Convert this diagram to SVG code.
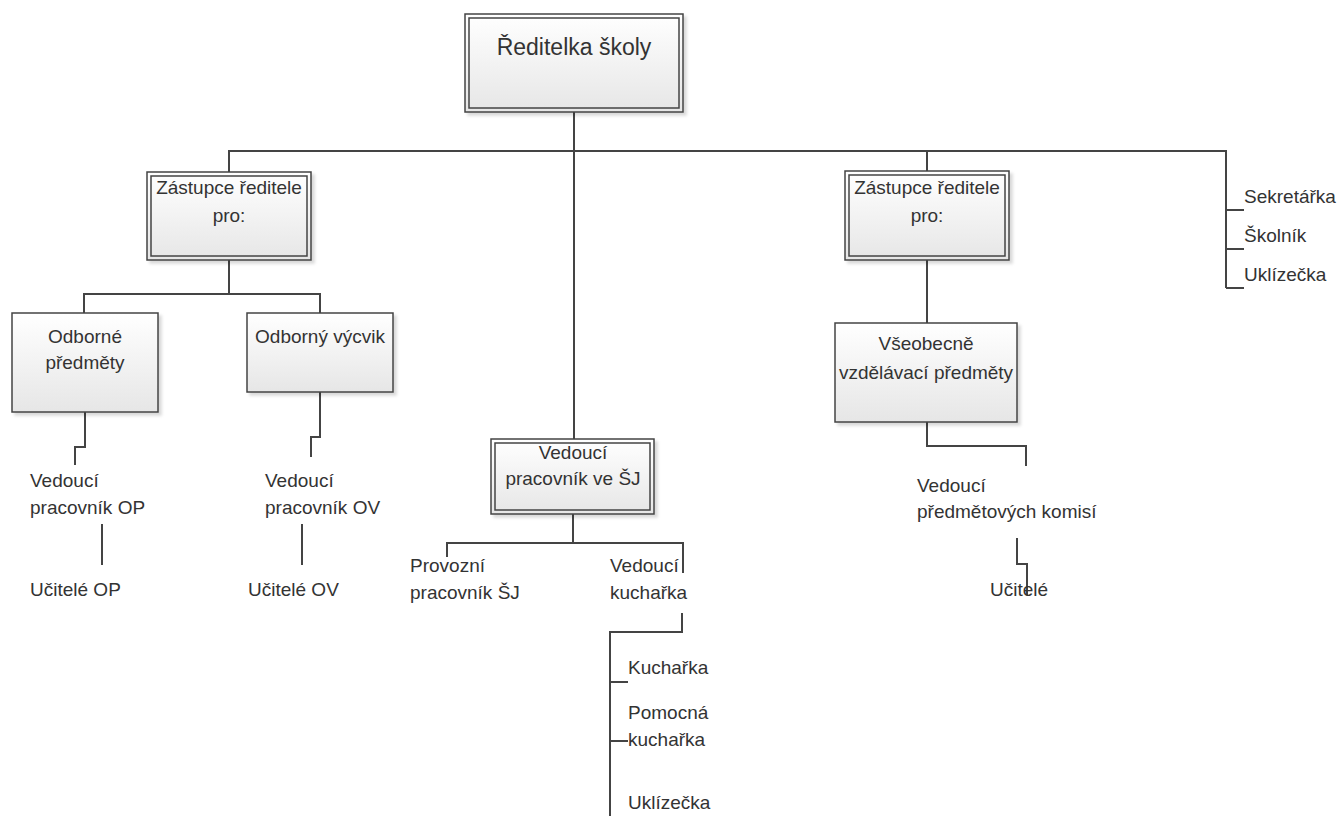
<svg xmlns="http://www.w3.org/2000/svg" width="1340" height="816" viewBox="0 0 1340 816">
<defs>
<linearGradient id="g" x1="0" y1="0" x2="0" y2="1">
<stop offset="0" stop-color="#ffffff"/>
<stop offset="1" stop-color="#e6e6e6"/>
</linearGradient>
<filter id="sh" x="-10%" y="-10%" width="130%" height="130%">
<feDropShadow dx="3" dy="3" stdDeviation="1.5" flood-color="#000" flood-opacity="0.15"/>
</filter>
</defs>
<style>
.t{font-family:"Liberation Sans",Arial,sans-serif;font-size:19px;fill:#333}
.c{text-anchor:middle}
.big{font-size:23px}
.box{fill:url(#g);stroke:#444;stroke-width:1.5;filter:url(#sh)}
.in{fill:none;stroke:#444;stroke-width:1.5}
.ln{fill:none;stroke:#444;stroke-width:2}
</style>
<rect width="1340" height="816" fill="#fff"/>
<g id="connectors">
<path class="ln" d="M574 112 V439"/>
<path class="ln" d="M229 172 V151 H1226 V288"/>
<path class="ln" d="M927 151 V171"/>
<path class="ln" d="M1226 210 H1244 M1226 249 H1244 M1226 288 H1244"/>
<path class="ln" d="M229 260 V294 M84 313 V294 H320 V313"/>
<path class="ln" d="M85 412 V447 H75 V465"/>
<path class="ln" d="M320 392 V437 H311 V457"/>
<path class="ln" d="M102 524 V565 M302 524 V565"/>
<path class="ln" d="M927 260 V323"/>
<path class="ln" d="M927 422 V446 H1026 V466"/>
<path class="ln" d="M1017 538 V564 H1027 V595"/>
<path class="ln" d="M573 514 V543 M447 557 V543 H683 V573"/>
<path class="ln" d="M682 613 V632 H610 V816 M610 682 H628 M610 741 H628"/>
</g>
<g id="reditelka">
<rect class="box" x="465" y="14" width="218" height="98"/>
<rect class="in" x="469" y="18" width="210" height="90"/>
<text class="t c big" x="574" y="55">Ředitelka školy</text>
</g>
<g id="zastupce1">
<rect class="box" x="147" y="172" width="164" height="88"/>
<rect class="in" x="151" y="176" width="156" height="80"/>
<text class="t c" x="229" y="194">Zástupce ředitele</text>
<text class="t c" x="229" y="222">pro:</text>
</g>
<g id="odborne">
<rect class="box" x="12" y="313" width="146" height="99"/>
<text class="t c" x="85" y="343">Odborné</text>
<text class="t c" x="85" y="369">předměty</text>
</g>
<g id="vycvik">
<rect class="box" x="247" y="313" width="146" height="79"/>
<text class="t c" x="320" y="343">Odborný výcvik</text>
</g>
<g id="vedouciOP">
<text class="t" x="30" y="487">Vedoucí</text>
<text class="t" x="30" y="514">pracovník OP</text>
</g>
<g id="ucOP"><text class="t" x="30" y="596">Učitelé OP</text></g>
<g id="vedouciOV">
<text class="t" x="265" y="487">Vedoucí</text>
<text class="t" x="265" y="514">pracovník OV</text>
</g>
<g id="ucOV"><text class="t" x="248" y="596">Učitelé OV</text></g>
<g id="sj">
<rect class="box" x="491" y="439" width="163" height="75"/>
<rect class="in" x="495" y="443" width="155" height="67"/>
<text class="t c" x="573" y="459">Vedoucí</text>
<text class="t c" x="573" y="485">pracovník ve ŠJ</text>
</g>
<g id="provozni">
<text class="t" x="410" y="572">Provozní</text>
<text class="t" x="410" y="599">pracovník ŠJ</text>
</g>
<g id="vkucharka">
<text class="t" x="610" y="572">Vedoucí</text>
<text class="t" x="610" y="599">kuchařka</text>
</g>
<g id="kucharka"><text class="t" x="628" y="674">Kuchařka</text></g>
<g id="pomocna">
<text class="t" x="628" y="719">Pomocná</text>
<text class="t" x="628" y="746">kuchařka</text>
</g>
<g id="uklizecka2"><text class="t" x="628" y="809">Uklízečka</text></g>
<g id="zastupce2">
<rect class="box" x="845" y="171" width="164" height="89"/>
<rect class="in" x="849" y="175" width="156" height="81"/>
<text class="t c" x="927" y="194">Zástupce ředitele</text>
<text class="t c" x="927" y="222">pro:</text>
</g>
<g id="vseobecne">
<rect class="box" x="835" y="323" width="182" height="99"/>
<text class="t c" x="926" y="350">Všeobecně</text>
<text class="t c" x="926" y="379">vzdělávací předměty</text>
</g>
<g id="vedouciPK">
<text class="t" x="917" y="492">Vedoucí</text>
<text class="t" x="917" y="518">předmětových komisí</text>
</g>
<g id="ucitele"><text class="t" x="990" y="596">Učitelé</text></g>
<g id="sekretarka"><text class="t" x="1244" y="203">Sekretářka</text></g>
<g id="skolnik"><text class="t" x="1244" y="242">Školník</text></g>
<g id="uklizecka1"><text class="t" x="1244" y="281">Uklízečka</text></g>
</svg>
